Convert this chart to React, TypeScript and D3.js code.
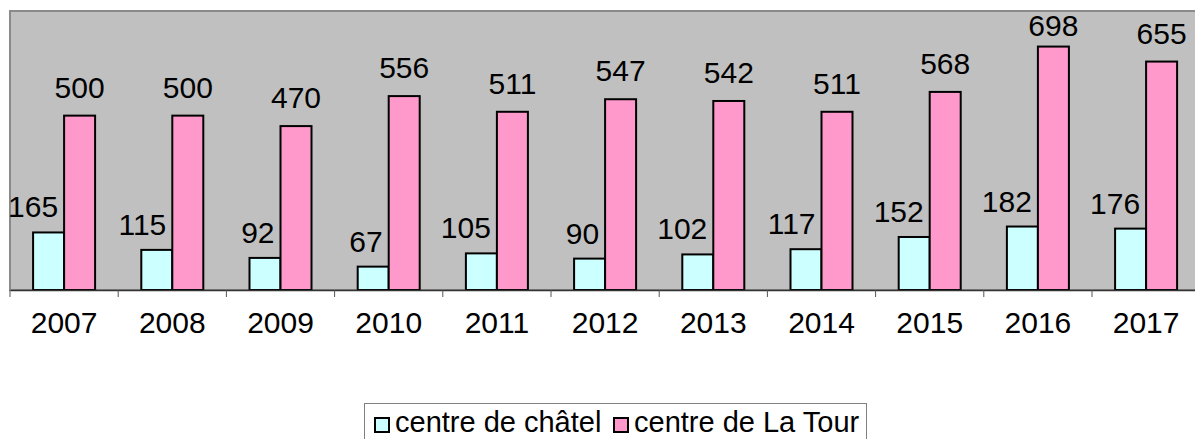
import { useEffect, useRef } from "react";
import * as d3 from "d3";

const years = ["2007", "2008", "2009", "2010", "2011", "2012", "2013", "2014", "2015", "2016", "2017"];
const chatel = [165, 115, 92, 67, 105, 90, 102, 117, 152, 182, 176];
const laTour = [500, 500, 470, 556, 511, 547, 542, 511, 568, 698, 655];
const seriesNames = ["centre de châtel", "centre de La Tour"];
const colors = ["#ccffff", "#ff99cc"];

const App = () => {
    const ref = useRef<HTMLDivElement>(null);

    useEffect(() => {
        const width = 1195;
        const height = 439;
        const plotLeft = 10;
        const plotTop = 11;
        const plotBottom = 290;
        const bandWidth = 108.2;
        const barWidth = 31;
        const fontSize = 30;
        const font = "Arial, 'Liberation Sans', sans-serif";

        document.body.style.margin = "0";

        // category scale runs past the right edge, like the original
        const x = d3
            .scaleBand()
            .domain(years)
            .range([plotLeft, plotLeft + bandWidth * years.length])
            .paddingInner(0)
            .paddingOuter(0);

        const y = d3.scaleLinear([0, 800], [plotBottom, plotTop]);

        const svg = d3
            .create("svg")
            .attr("width", width)
            .attr("height", height)
            .attr("viewBox", [0, 0, width, height])
            .style("display", "block")
            .style("font-family", font);

        svg.append("rect").attr("width", width).attr("height", height).attr("fill", "#ffffff");

        // plot area
        const plotRight = plotLeft + bandWidth * years.length;
        svg.append("rect")
            .attr("x", plotLeft)
            .attr("y", plotTop)
            .attr("width", plotRight - plotLeft)
            .attr("height", plotBottom - plotTop)
            .attr("fill", "#c0c0c0")
            .attr("stroke", "#8a8a8a")
            .attr("stroke-width", 2);

        // bars
        const groups = svg
            .append("g")
            .selectAll("g")
            .data(years)
            .join("g")
            .attr("transform", (d) => `translate(${x(d)! + x.bandwidth() / 2},0)`);

        groups
            .append("rect")
            .attr("x", -barWidth)
            .attr("y", (d, i) => y(chatel[i]))
            .attr("width", barWidth)
            .attr("height", (d, i) => plotBottom - y(chatel[i]))
            .attr("fill", colors[0])
            .attr("stroke", "#000")
            .attr("stroke-width", 2);

        groups
            .append("rect")
            .attr("x", 0)
            .attr("y", (d, i) => y(laTour[i]))
            .attr("width", barWidth)
            .attr("height", (d, i) => plotBottom - y(laTour[i]))
            .attr("fill", colors[1])
            .attr("stroke", "#000")
            .attr("stroke-width", 2);

        // value labels (châtel labels pushed left so they clear the pink bar)
        groups
            .append("text")
            .attr("x", -6)
            .attr("y", (d, i) => y(chatel[i]) - 15)
            .attr("text-anchor", "end")
            .attr("font-size", fontSize)
            .attr("fill", "#000")
            .text((d, i) => chatel[i]);

        groups
            .append("text")
            .attr("x", barWidth / 2)
            .attr("y", (d, i) => Math.max(y(laTour[i]) - 18, 36))
            .attr("text-anchor", "middle")
            .attr("font-size", fontSize)
            .attr("fill", "#000")
            .text((d, i) => laTour[i]);

        // x axis
        const axis = svg
            .append("g")
            .attr("transform", `translate(0,${plotBottom})`)
            .call(d3.axisBottom(x).tickSize(0).tickPadding(43).tickSizeOuter(0));
        axis.select(".domain").attr("stroke", "#333").attr("stroke-width", 1.5);
        axis.selectAll(".tick text")
            .attr("font-size", fontSize)
            .attr("font-family", font)
            .attr("fill", "#000")
            .attr("dy", 0);

        // tick marks between categories
        const boundaries = d3.range(years.length + 1).map((i) => plotLeft + i * x.bandwidth());
        svg.append("g")
            .selectAll("line")
            .data(boundaries)
            .join("line")
            .attr("x1", (d) => d)
            .attr("x2", (d) => d)
            .attr("y1", plotBottom)
            .attr("y2", plotBottom + 7)
            .attr("stroke", "#555")
            .attr("stroke-width", 1);

        // legend
        const legend = svg.append("g");
        legend
            .append("rect")
            .attr("x", 364.5)
            .attr("y", 403.5)
            .attr("width", 502)
            .attr("height", 50)
            .attr("fill", "#fff")
            .attr("stroke", "#808080")
            .attr("stroke-width", 1);

        const legendX = [375, 614];
        const items = legend
            .selectAll("g")
            .data(seriesNames)
            .join("g")
            .attr("transform", (d, i) => `translate(${legendX[i]},0)`);
        items
            .append("rect")
            .attr("x", 0)
            .attr("y", 418)
            .attr("width", 14)
            .attr("height", 14)
            .attr("fill", (d, i) => colors[i])
            .attr("stroke", "#000")
            .attr("stroke-width", 2);
        items
            .append("text")
            .attr("x", 20)
            .attr("y", 432)
            .attr("font-size", 29)
            .attr("fill", "#000")
            .text((d) => d);

        ref.current!.innerHTML = "";
        ref.current!.appendChild(svg.node()!);
    }, []);

    return <div ref={ref}></div>;
};

export default App;
